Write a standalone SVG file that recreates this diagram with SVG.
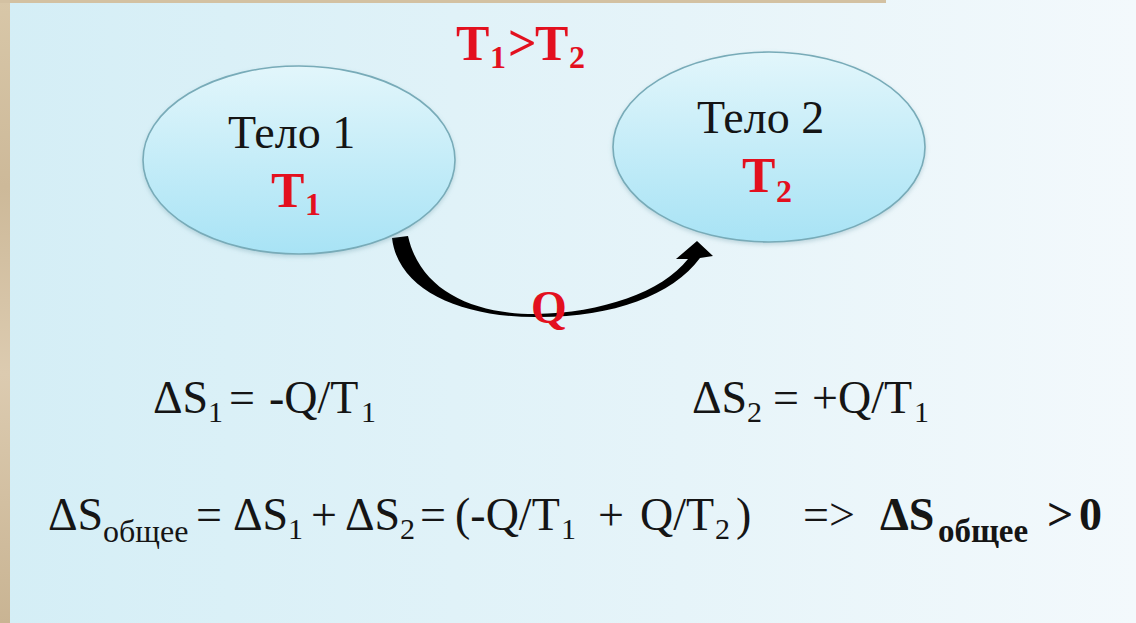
<svg xmlns="http://www.w3.org/2000/svg" width="1136" height="623" viewBox="0 0 1136 623">
<defs>
<linearGradient id="bg" x1="0" y1="0" x2="1" y2="0">
<stop offset="0" stop-color="#d4eef6"/>
<stop offset="0.6" stop-color="#e6f4f9"/>
<stop offset="1" stop-color="#f3f9fc"/>
</linearGradient>
<linearGradient id="ell" x1="0" y1="0" x2="0" y2="1">
<stop offset="0" stop-color="#e2f6fb"/>
<stop offset="1" stop-color="#a8e3f5"/>
</linearGradient>
<linearGradient id="beige" x1="0" y1="0" x2="0" y2="1">
<stop offset="0" stop-color="#d8c7a8"/>
<stop offset="0.3" stop-color="#cdb999"/>
<stop offset="0.6" stop-color="#dccbb0"/>
<stop offset="1" stop-color="#c9b493"/>
</linearGradient>
<filter id="sh" x="-10%" y="-10%" width="120%" height="130%">
<feDropShadow dx="0" dy="2" stdDeviation="2" flood-color="#6a9aa8" flood-opacity="0.35"/>
</filter>
</defs>
<style>
.node{fill:url(#ell);stroke:#78abb8;stroke-width:1.6}
.t{font-family:'Liberation Serif','DejaVu Serif','Times New Roman',serif;font-weight:normal;font-style:normal;fill:#151515}
.r{font-family:'Liberation Serif','DejaVu Serif','Times New Roman',serif;fill:#e3101e;font-weight:bold}
.b{font-weight:bold}
</style>
<rect x="0" y="0" width="1136" height="623" fill="url(#bg)"/>
<rect x="0" y="0" width="10" height="623" fill="url(#beige)"/>
<rect x="0" y="0" width="886" height="3" fill="#d3c1a2"/>

<g id="connectors">
<path d="M392,238 C398,290 460,317 535,317 C610,318 672,296 700,258 L713,256 L697,241 L676,259 L688,259 C662,292 602,313 535,314 C472,314 420,290 408,236 Z" fill="#000"/>
</g>

<g id="node1">
<ellipse class="node" cx="299" cy="160" rx="156" ry="94" filter="url(#sh)"/>
<text class="t" x="228" y="148" font-size="46">Тело 1</text>
<text class="r" font-size="50"><tspan x="271" y="207">T</tspan><tspan x="305" y="215" font-size="32">1</tspan></text>
</g>

<g id="node2">
<ellipse class="node" cx="769" cy="147" rx="156" ry="95" filter="url(#sh)"/>
<text class="t" x="697" y="133" font-size="46">Тело 2</text>
<text class="r" font-size="50"><tspan x="742" y="192">T</tspan><tspan x="776" y="202" font-size="32">2</tspan></text>
</g>

<g id="title">
<text class="r" font-size="50"><tspan x="456" y="60">T</tspan><tspan x="490" y="68" font-size="32">1</tspan><tspan x="508" y="60">&gt;</tspan><tspan x="535" y="60">T</tspan><tspan x="569" y="68" font-size="32">2</tspan></text>
</g>

<g id="q-label">
<text class="r" x="531" y="323" font-size="46">Q</text>
</g>

<g id="eq1">
<text class="t" font-size="46"><tspan x="153" y="413">ΔS</tspan><tspan x="208" y="422" font-size="30">1</tspan><tspan x="229" y="413">=</tspan><tspan x="269" y="413">-Q/T</tspan><tspan x="361" y="422" font-size="30">1</tspan></text>
</g>

<g id="eq2">
<text class="t" font-size="46"><tspan x="692" y="413">ΔS</tspan><tspan x="747" y="422" font-size="30">2</tspan><tspan x="773" y="413">=</tspan><tspan x="812" y="413">+Q/T</tspan><tspan x="914" y="422" font-size="30">1</tspan></text>
</g>

<g id="eq3">
<text class="t" font-size="46"><tspan x="48" y="530">ΔS</tspan><tspan x="103" y="542" font-size="32">общее</tspan><tspan x="196" y="530">=</tspan><tspan x="233" y="530">ΔS</tspan><tspan x="288" y="539" font-size="30">1</tspan><tspan x="311" y="530">+</tspan><tspan x="345" y="530">ΔS</tspan><tspan x="400" y="539" font-size="30">2</tspan><tspan x="420" y="530">=</tspan><tspan x="455" y="530">(-Q/T</tspan><tspan x="561" y="539" font-size="30">1</tspan><tspan x="598" y="530">+</tspan><tspan x="640" y="530">Q/T</tspan><tspan x="715" y="539" font-size="30">2</tspan><tspan x="736" y="530">)</tspan><tspan x="803" y="530">=&gt;</tspan></text>
<text class="t b" font-size="46" font-weight="bold"><tspan x="880" y="530">ΔS</tspan><tspan x="938" y="542" font-size="33">общее</tspan><tspan x="1047" y="530">&gt;</tspan><tspan x="1079" y="530">0</tspan></text>
</g>
</svg>
